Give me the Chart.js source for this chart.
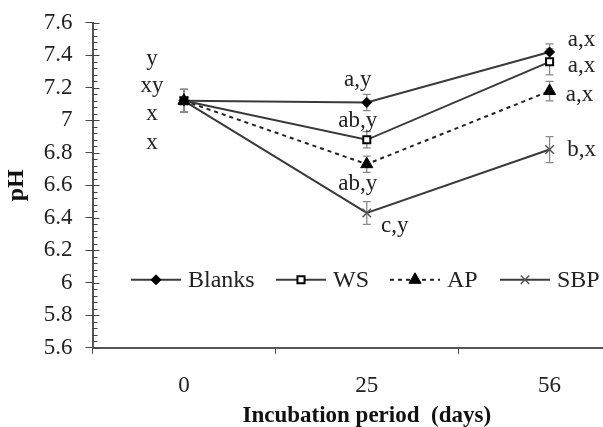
<!DOCTYPE html>
<html>
<head>
<meta charset="utf-8">
<script src="https://cdn.jsdelivr.net/npm/chart.js@4.4.1/dist/chart.umd.min.js"></script>
<style>
  html, body { margin: 0; padding: 0; background: #fff; overflow: hidden; width: 603px; height: 427px; }
  #wrap { position: relative; top: -4px; width: 650px; height: 431px; }
</style>
</head>
<body>
<div id="wrap"><canvas id="c" width="650" height="431"></canvas></div>
<script>
// incubation days
const days = ['0', '25', '56'];

// pH means
const blanks = [7.12, 7.11, 7.42];
const ws     = [7.12, 6.88, 7.36];
const ap     = [7.12, 6.73, 7.18];
const sbp    = [7.12, 6.43, 6.82];

// standard error (+/-)
const blanksErr = [0.07, 0.05, 0.05];
const wsErr     = [0.07, 0.05, 0.08];
const apErr     = [0.07, 0.05, 0.06];
const sbpErr    = [0.07, 0.07, 0.08];

// significance letters
const day0Letters = ['y', 'xy', 'x', 'x'];
const day0LetterY = [7.38, 7.21, 7.04, 6.86];
const day25Letters = ['a,y', 'ab,y', 'ab,y', 'c,y'];
const day56Letters = ['a,x', 'a,x', 'a,x', 'b,x'];

const seriesNames = ['Blanks', 'WS', 'AP', 'SBP'];

const LINE = '#3a3a3a';
const FONT = '"Liberation Serif", "Times New Roman", serif';

const errors = [blanksErr, wsErr, apErr, sbpErr];

const errorBars = {
    id: 'errorBars',
    beforeDatasetsDraw(chart) {
        const ctx = chart.ctx;
        const x = chart.scales.x, y = chart.scales.y;
        ctx.save();
        ctx.strokeStyle = '#8a8a8a';
        ctx.lineWidth = 1.3;
        chart.data.datasets.forEach((ds, i) => {
            ds.data.forEach((v, j) => {
                const px = x.getPixelForValue(j);
                const top = y.getPixelForValue(v + errors[i][j]);
                const bot = y.getPixelForValue(v - errors[i][j]);
                ctx.beginPath();
                ctx.moveTo(px, top); ctx.lineTo(px, bot);
                ctx.moveTo(px - 4, top); ctx.lineTo(px + 4, top);
                ctx.moveTo(px - 4, bot); ctx.lineTo(px + 4, bot);
                ctx.stroke();
            });
        });
        ctx.restore();
    }
};

function marker(ctx, ds, px, py) {
    ctx.save();
    ctx.fillStyle = ds.pointBackgroundColor;
    ctx.strokeStyle = ds.pointBorderColor;
    ctx.lineWidth = ds.pointBorderWidth;
    ctx.setLineDash([]);
    Chart.helpers.drawPoint(ctx, {
        pointStyle: ds.pointStyle,
        radius: ds.pointRadius,
        borderWidth: ds.pointBorderWidth,
        rotation: 0
    }, px, py);
    ctx.restore();
}

const extras = {
    id: 'extras',
    afterDraw(chart) {
        const ctx = chart.ctx;
        const x = chart.scales.x, y = chart.scales.y;
        const left = chart.chartArea.left;
        ctx.save();

        // minor ticks on the y axis
        ctx.strokeStyle = '#444';
        ctx.lineWidth = 1;
        for (let k = 0; k <= 50; k++) {
            const py = Math.round(y.getPixelForValue(5.6 + k * 0.04)) + 0.5;
            ctx.beginPath();
            ctx.moveTo(left, py);
            ctx.lineTo(left + (k % 5 === 0 ? 7 : 5), py);
            ctx.stroke();
        }

        // letters
        ctx.fillStyle = '#222';
        ctx.font = '23px ' + FONT;
        ctx.textAlign = 'center';
        ctx.textBaseline = 'middle';
        const x0 = x.getPixelForValue(0), x1 = x.getPixelForValue(1), x2 = x.getPixelForValue(2);
        day0Letters.forEach((t, i) => ctx.fillText(t, x0 - 32, y.getPixelForValue(day0LetterY[i])));
        const all = [blanks, ws, ap, sbp];
        const off25 = [[-9, -22], [-9, -19], [-9, 20], [28, 13]];
        const off56 = [[32, -12], [32, 4], [30, 4], [32, 0]];
        day25Letters.forEach((t, i) => ctx.fillText(t, x1 + off25[i][0], y.getPixelForValue(all[i][1]) + off25[i][1]));
        day56Letters.forEach((t, i) => ctx.fillText(t, x2 + off56[i][0], y.getPixelForValue(all[i][2]) + off56[i][1]));

        // legend inside plot, sits at pH 6.0
        const ly = y.getPixelForValue(6.0) - 3;
        const starts = [131, 276, 390, 500];
        ctx.textAlign = 'left';
        ctx.font = '24px ' + FONT;
        chart.data.datasets.forEach((ds, i) => {
            const sx = starts[i];
            ctx.save();
            ctx.strokeStyle = ds.borderColor;
            ctx.lineWidth = ds.borderWidth;
            ctx.setLineDash(ds.borderDash || []);
            ctx.beginPath();
            ctx.moveTo(sx, ly); ctx.lineTo(sx + 50, ly);
            ctx.stroke();
            ctx.restore();
            marker(ctx, ds, sx + 25, ly);
            ctx.fillStyle = '#222';
            ctx.fillText(seriesNames[i], sx + 57, ly + 1);
        });
        ctx.restore();
    }
};

new Chart(document.getElementById('c'), {
    type: 'line',
    data: {
        labels: days,
        datasets: [
            { label: 'Blanks', data: blanks, borderColor: LINE, borderWidth: 2, pointStyle: 'rectRot',
              pointRadius: 5, pointBackgroundColor: '#000', pointBorderColor: '#000', pointBorderWidth: 1 },
            { label: 'WS', data: ws, borderColor: LINE, borderWidth: 2, pointStyle: 'rect',
              pointRadius: 5, pointBackgroundColor: '#fff', pointBorderColor: '#000', pointBorderWidth: 2 },
            { label: 'AP', data: ap, borderColor: '#222', borderWidth: 2, borderDash: [4, 4], pointStyle: 'triangle',
              pointRadius: 7, pointBackgroundColor: '#000', pointBorderColor: '#000', pointBorderWidth: 1 },
            { label: 'SBP', data: sbp, borderColor: LINE, borderWidth: 2, pointStyle: 'crossRot',
              pointRadius: 6, pointBackgroundColor: '#555', pointBorderColor: '#555', pointBorderWidth: 1.5 }
        ]
    },
    options: {
        responsive: false,
        animation: false,
        tension: 0,
        layout: { padding: { top: 0, right: 9, left: 2, bottom: 0 } },
        plugins: { legend: { display: false }, tooltip: { enabled: false } },
        scales: {
            x: {
                offset: true,
                grid: { offset: true, drawOnChartArea: false, tickLength: 6, color: '#444' },
                border: { color: '#555', width: 2 },
                ticks: { color: '#222', font: { family: FONT, size: 23 }, padding: 18 },
                title: { display: true, text: 'Incubation period  (days)', color: '#111',
                         font: { family: FONT, size: 23, weight: 'bold' }, padding: { top: -15, bottom: -3 } }
            },
            y: {
                min: 5.6, max: 7.6,
                ticks: { stepSize: 0.2, color: '#222', font: { family: FONT, size: 23 }, padding: 13,
                         callback: v => Math.round(v * 10) / 10 },
                grid: { drawOnChartArea: false, tickLength: 7, color: '#444' },
                border: { color: '#555', width: 2 },
                title: { display: true, text: 'pH', color: '#111',
                         font: { family: FONT, size: 24, weight: 'bold' }, padding: 0 }
            }
        }
    },
    plugins: [errorBars, extras]
});
</script>
</body>
</html>
